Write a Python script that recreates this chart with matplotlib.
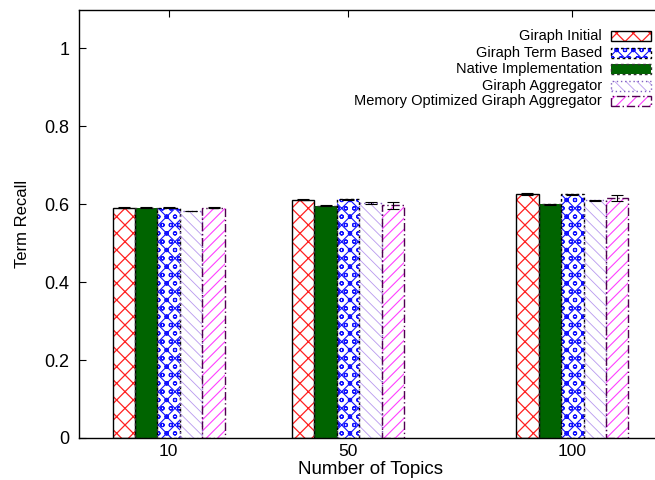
import numpy as np
import matplotlib.pyplot as plt
from matplotlib.patches import Rectangle

plt.rcParams['font.family'] = ['Liberation Sans', 'DejaVu Sans']
plt.rcParams['hatch.linewidth'] = 0.9

# Term recall per number of topics
topics = [10, 50, 100]
giraph_initial = [0.591, 0.612, 0.627]
native_impl = [0.591, 0.596, 0.600]
giraph_term = [0.591, 0.613, 0.626]
giraph_aggr = [0.583, 0.603, 0.610]
mem_opt_aggr = [0.591, 0.597, 0.617]

err_initial = [0.001, 0.001, 0.002]
err_native = [0.001, 0.001, 0.001]
err_term = [0.001, 0.001, 0.001]
err_aggr = [0.001, 0.002, 0.001]
err_mem = [0.001, 0.009, 0.008]

series = [
    ('Giraph Initial', giraph_initial, err_initial),
    ('Native Implementation', native_impl, err_native),
    ('Giraph Term Based', giraph_term, err_term),
    ('Giraph Aggregator', giraph_aggr, err_aggr),
    ('Memory Optimized Giraph Aggregator', mem_opt_aggr, err_mem),
]
legend_order = ['Giraph Initial', 'Giraph Term Based', 'Native Implementation',
                'Giraph Aggregator', 'Memory Optimized Giraph Aggregator']

# fill colour, hatch, hatch colour, hatch width, outline colour, outline style
styles = {
    'Giraph Initial': ('white', 'xx', '#ff2020', 0.9, 'black', '-'),
    'Native Implementation': ('#006400', None, '#006400', 0.9, '#333333', (0, (2, 2))),
    'Giraph Term Based': ('white', 'xxoo', '#1010ff', 0.8, 'black', (0, (2, 2))),
    'Giraph Aggregator': ('white', '\\\\\\', '#b898ee', 0.6, '#8060c0', (0, (1, 2))),
    'Memory Optimized Giraph Aggregator': ('white', '///', '#ff40ff', 0.8, '#500050', (0, (6, 2, 1, 2))),
}

width = 5
offsets = [-10, -5, 0, 5, 10]

fig = plt.figure(figsize=(6.55, 4.8), dpi=100)
ax = fig.add_axes([79 / 655, 42 / 480, 583 / 655, 428.5 / 480])

x = np.array(topics, dtype=float)
for (name, vals, errs), off in zip(series, offsets):
    face, hatch, hcol, hlw, ecol, ls = styles[name]
    with plt.rc_context({'hatch.linewidth': hlw}):
        ax.bar(x + off, vals, width, color=face, hatch=hatch, edgecolor=hcol,
               linewidth=0, zorder=2)
    ax.bar(x + off, vals, width, fill=False, edgecolor=ecol, linewidth=1.0,
           linestyle=ls, zorder=3)
    ax.errorbar(x + off, vals, yerr=errs, fmt='none', ecolor='black',
                elinewidth=0.8, capsize=4, capthick=0.8, zorder=4)

ax.set_xlim(-10, 120)
ax.set_ylim(0, 1.1)
ax.set_xticks(topics)
ax.set_xticklabels([str(t) for t in topics])
ax.set_yticks([0, 0.2, 0.4, 0.6, 0.8, 1.0])
ax.set_yticklabels(['0', '0.2', '0.4', '0.6', '0.8', '1'])
ax.tick_params(direction='in', top=True, right=True, labelsize=13,
               length=5, width=0.8)
ax.tick_params(axis='x', pad=4, labelsize=12.5)
ax.tick_params(axis='y', pad=7)
for s in ax.spines.values():
    s.set_linewidth(1.0)

ax.set_xlabel('Number of Topics', fontsize=13.5)
ax.xaxis.set_label_coords(0.5, -0.053)
ax.set_ylabel('Term Recall', fontsize=12, labelpad=10)

# gnuplot-style key: right-aligned text with swatch on its right
row_y = [36, 53, 69, 86, 101]
for name, py in zip(legend_order, row_y):
    face, hatch, hcol, hlw, ecol, ls = styles[name]
    fy = 1 - py / 480
    fig.text(602 / 655, fy, name, ha='right', va='center', fontsize=10.5)
    sw_x, sw_w, sw_h = 611 / 655, 40 / 655, 10 / 480
    with plt.rc_context({'hatch.linewidth': hlw}):
        fig.patches.append(Rectangle((sw_x, fy - sw_h / 2), sw_w, sw_h,
                                     transform=fig.transFigure, facecolor=face,
                                     hatch=hatch, edgecolor=hcol, linewidth=0))
    fig.patches.append(Rectangle((sw_x, fy - sw_h / 2), sw_w, sw_h,
                                 transform=fig.transFigure, fill=False,
                                 edgecolor=ecol, linewidth=1.0, linestyle=ls))

fig.savefig('out.png', dpi=100)
